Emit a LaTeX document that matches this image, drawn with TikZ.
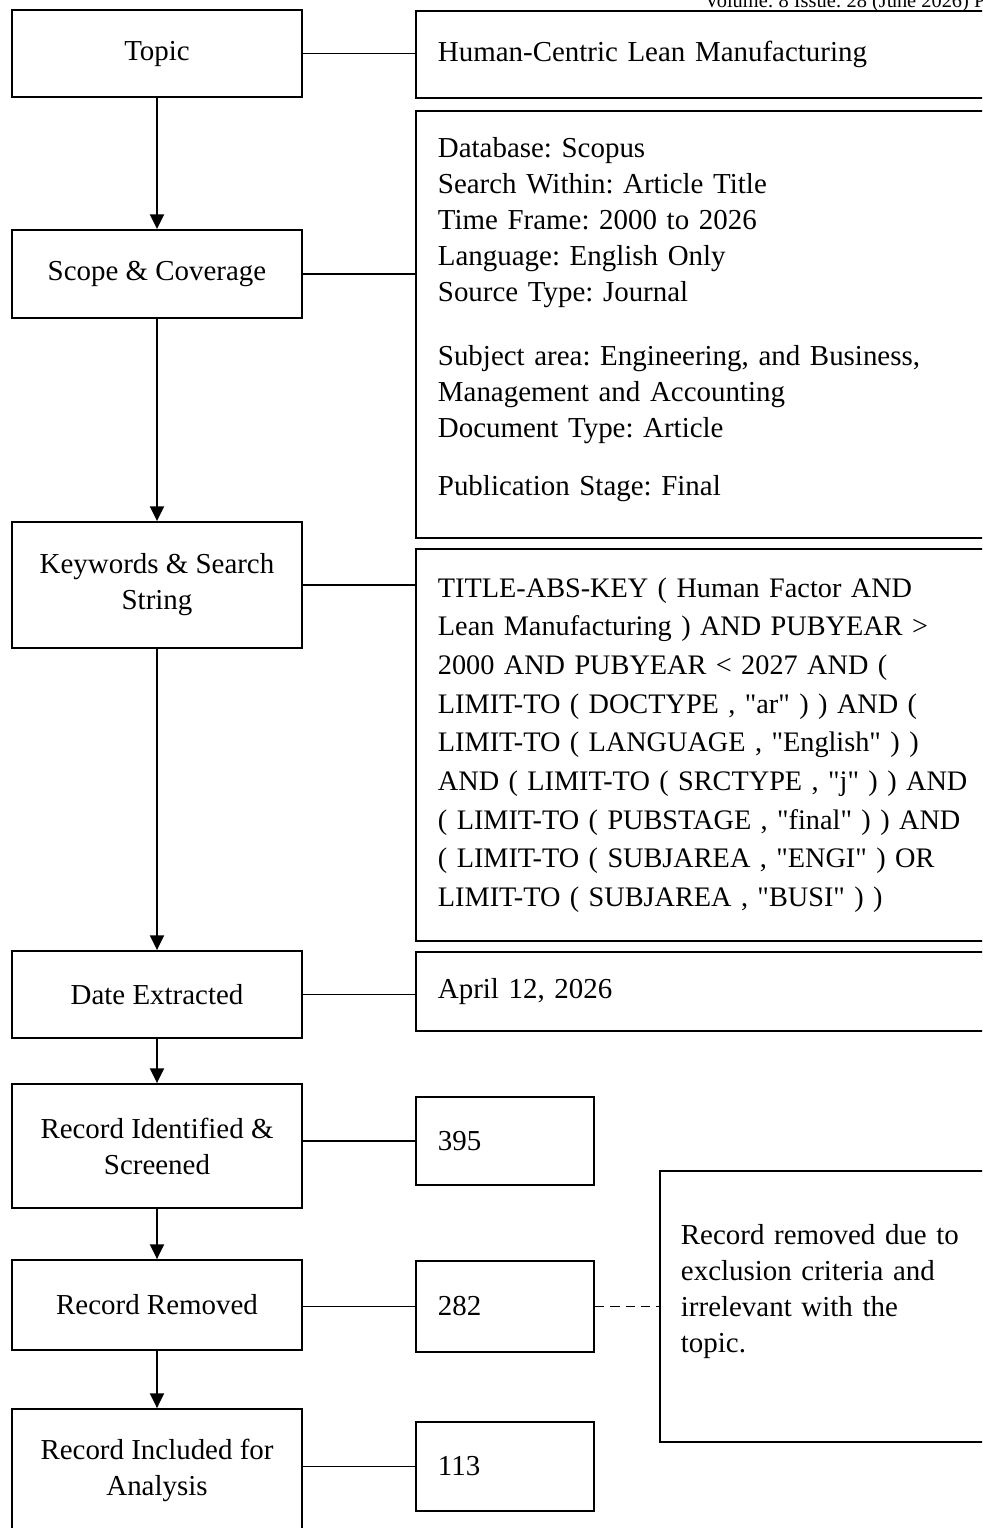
\documentclass[tikz,border=0pt]{standalone}
\usepackage{fontspec}
\setmainfont{Liberation Serif}[Ligatures=TeXOff]
\usetikzlibrary{arrows.meta}

\frenchspacing
\newcommand\boxfont{\fontsize{21.7pt}{27pt}\selectfont}
\newcommand\queryfont{\fontsize{21.2pt}{29pt}\selectfont}

\begin{document}
\begin{tikzpicture}[x=0.75pt,y=-0.75pt,
	stagebox/.style={draw,line width=1.4pt,minimum width=217.5pt,align=center,inner sep=0pt,font=\boxfont},
	detailbox/.style={draw,line width=1.4pt,anchor=north west,align=left,text width=480pt,inner xsep=16.5pt,inner ysep=0pt,font=\boxfont},
	countbox/.style={draw,line width=1.4pt,anchor=north west,align=left,text width=100.5pt,inner xsep=16.5pt,inner ysep=0pt,font=\boxfont}]

	\useasboundingbox (0,0) rectangle (982,1528);
	\clip (0,0) rectangle (982,1528);

	\node[anchor=base west,font=\fontsize{15.3pt}{18pt}\selectfont] (Header) at (700,7) {Volume: 8 Issue: 28 (June 2026) P};

	% steps
	\node[stagebox,minimum height=65.25pt] (Topic) at (157,53.5) {Topic};
	\node[stagebox,minimum height=66pt] (Scope) at (157,274) {Scope \& Coverage};
	\node[stagebox,minimum height=94.5pt] (Keywords) at (157,585) {Keywords \& Search\\String};
	\node[stagebox,minimum height=65.25pt] (Date) at (157,994.5) {Date Extracted};
	\node[stagebox,minimum height=93pt] (Identified) at (157,1146) {Record Identified \&\\Screened};
	\node[stagebox,minimum height=67.5pt] (Removed) at (157,1305) {Record Removed};
	\node[stagebox,minimum height=92.25pt] (Included) at (157,1470.5) {Record Included for\\Analysis};

	% details
	\node[detailbox,minimum height=65.25pt] (TopicInfo) at (415,10) {Human-Centric Lean Manufacturing};
	\node[detailbox,minimum height=320.25pt] (ScopeInfo) at (415,110) {Database: Scopus\\Search Within: Article Title\\Time Frame: 2000 to 2026\\Language: English Only\\Source Type: Journal\\[21pt]Subject area: Engineering, and Business,\\Management and Accounting\\Document Type: Article\\[16.5pt]Publication Stage: Final\\[-15pt]\mbox{}};
	\node[detailbox,minimum height=294pt,font=\queryfont] (Query) at (415,548) {TITLE-ABS-KEY ( Human Factor AND\\Lean Manufacturing ) AND PUBYEAR >\\2000 AND PUBYEAR < 2027 AND (\\LIMIT-TO ( DOCTYPE , "ar" ) ) AND (\\LIMIT-TO ( LANGUAGE , "English" ) )\\AND ( LIMIT-TO ( SRCTYPE , "j" ) ) AND\\( LIMIT-TO ( PUBSTAGE , "final" ) ) AND\\( LIMIT-TO ( SUBJAREA , "ENGI" ) OR\\LIMIT-TO ( SUBJAREA , "BUSI" ) )};
	\node[detailbox,minimum height=59.25pt] (DateInfo) at (415,951) {April 12, 2026};

	% counts
	\node[countbox,minimum height=66pt] (Identified395) at (415,1096) {395};
	\node[countbox,minimum height=68.25pt] (Removed282) at (415,1260) {282};
	\node[countbox,minimum height=66.75pt] (Included113) at (415,1421) {113};
	\node[draw,line width=1.4pt,anchor=north west,align=left,text width=225pt,inner xsep=15.75pt,minimum height=203.25pt,font=\boxfont] (Reason) at (659,1170) {Record removed due to\\exclusion criteria and\\irrelevant with the\\topic.\\\mbox{}};

	\draw[line width=1.4pt]
		(Topic.east) -- (Topic.east -| TopicInfo.west)
		(Scope.east) -- (Scope.east -| ScopeInfo.west)
		(Keywords.east) -- (Keywords.east -| Query.west)
		(Date.east) -- (Date.east -| DateInfo.west)
		(Identified395.west) -- (Identified395.west -| Identified.east)
		(Removed282.west) -- (Removed282.west -| Removed.east)
		(Included113.west) -- (Included113.west -| Included.east);
	\draw[line width=1pt,dash pattern=on 7pt off 4.5pt] (Removed282.east) -- (Removed282.east -| Reason.west);

	\path [->,>={Triangle[width=10.5pt,length=11pt]},line width=1.4pt]
		(Topic.south) edge (Scope.north)
		(Scope.south) edge (Keywords.north)
		(Keywords.south) edge (Date.north)
		(Date.south) edge (Identified.north)
		(Identified.south) edge (Removed.north)
		(Removed.south) edge (Included.north);
\end{tikzpicture}
\end{document}
